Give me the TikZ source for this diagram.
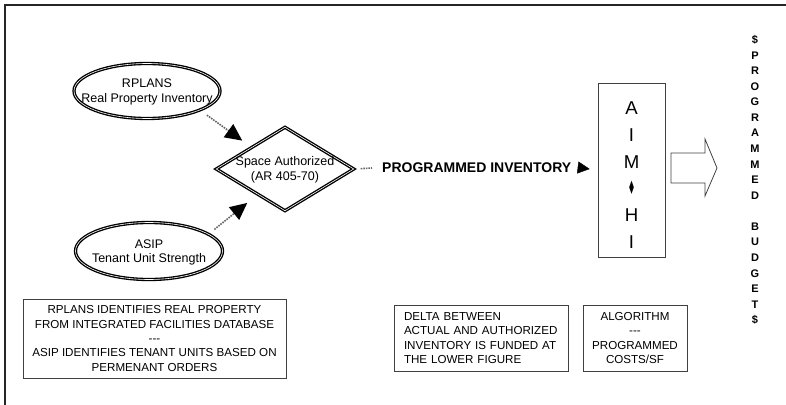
\documentclass[tikz,border=0pt]{standalone}
\usepackage{fontspec}
\setmainfont{Liberation Sans}
\newfontfamily\symfont{DejaVu Sans}
\usetikzlibrary{shapes.geometric,arrows.meta}
\tikzset{
  oval/.style={ellipse, draw, line width=1.35pt, double, double distance=0.6pt,
    minimum width=146pt, minimum height=55pt, inner sep=0pt},
  gate/.style={diamond, draw, line width=1.35pt, double, double distance=0.6pt,
    minimum width=138pt, minimum height=84pt, inner sep=0pt},
  inside/.style={align=center, inner sep=0pt, font=\fontsize{12.5}{14.8}\selectfont},
  note/.style={draw=black!75, line width=0.8pt, align=center, inner sep=0pt,
    font=\fontsize{11.6}{14.3}\selectfont},
  feed/.style={densely dotted, line width=1.6pt, black!60},
}
\begin{document}
\begin{tikzpicture}[x=1pt,y=-1pt]
      \clip (0,0) rectangle (786,404);
      \draw[line width=2pt, black!85] (5,410) -- (5,5) -- (790,5);
      \node[oval] (rp) at (147,91) {};
      \node[inside] (rptext) at (147,92) {RPLANS\\Real Property Inventory};
      \node[oval, minimum width=147pt, minimum height=57pt] (as) at (149,251) {};
      \node[inside] (astext) at (149,252.5) {ASIP\\Tenant Unit Strength};
      \node[gate] (sa) at (285,169) {};
      \node[inside] (satext) at (285,169.5) {Space Authorized\\(AR 405-70)};
      \node[anchor=west, inner xsep=10pt, inner ysep=0pt,
        font=\bfseries\fontsize{14}{16}\selectfont] (inv) at (372,168) {PROGRAMMED INVENTORY};
      \node[draw=black!75, line width=0.8pt, minimum width=67pt, minimum height=174pt] (aim) at (631.5,170) {};
      \node[align=center, inner sep=0pt, font=\fontsize{18.6}{26.8}\selectfont] (aimtext) at (631.5,175)
        {A\\I\\M\\\scalebox{0.45}[1]{\symfont\char"2666}\\H\\I};
      \node[align=center, inner sep=0pt, font=\bfseries\fontsize{11}{15.58}\selectfont] (budget) at (755,180)
        {\$\\P\\R\\O\\G\\R\\A\\M\\M\\E\\D\\~\\B\\U\\D\\G\\E\\T\\\$};
      \node[note, minimum width=263pt, minimum height=79pt] (n1) at (154.5,338.5)
        {RPLANS IDENTIFIES REAL PROPERTY\\FROM INTEGRATED FACILITIES DATABASE\\-{}-{}-\\ASIP IDENTIFIES TENANT UNITS BASED ON\\PERMENANT ORDERS};
      \node[note, align=left, text width=154pt, inner xsep=10pt, minimum height=66pt] (n2) at (481,338)
        {DELTA BETWEEN\\ACTUAL AND AUTHORIZED\\INVENTORY IS FUNDED AT\\THE LOWER FIGURE};
      \node[note, minimum width=104pt, minimum height=66pt] (n3) at (635,338)
        {ALGORITHM\\-{}-{}-\\PROGRAMMED\\COSTS/SF};
      \begin{scope}[-{Triangle[length=17pt,width=16pt,color=black]}]
        \draw[feed, shorten <=8pt, shorten >=11pt] (rp.-20) to (sa.147);
        \draw[feed, shorten <=7pt, shorten >=13pt] (as.16) to (sa.223);
      \end{scope}
      \draw[feed, shorten <=6pt] (sa.east) to (inv.west);
      \draw[-{Triangle[length=12pt,width=12pt]}, shorten >=8pt] (inv.east) to (aim.west);
      \draw[black!75, line width=0.8pt] (671,153) -- (705,153) -- (705,139) -- (717,168)
        -- (705,196) -- (705,183) -- (671,183) -- cycle;
    \end{tikzpicture}
\end{document}
